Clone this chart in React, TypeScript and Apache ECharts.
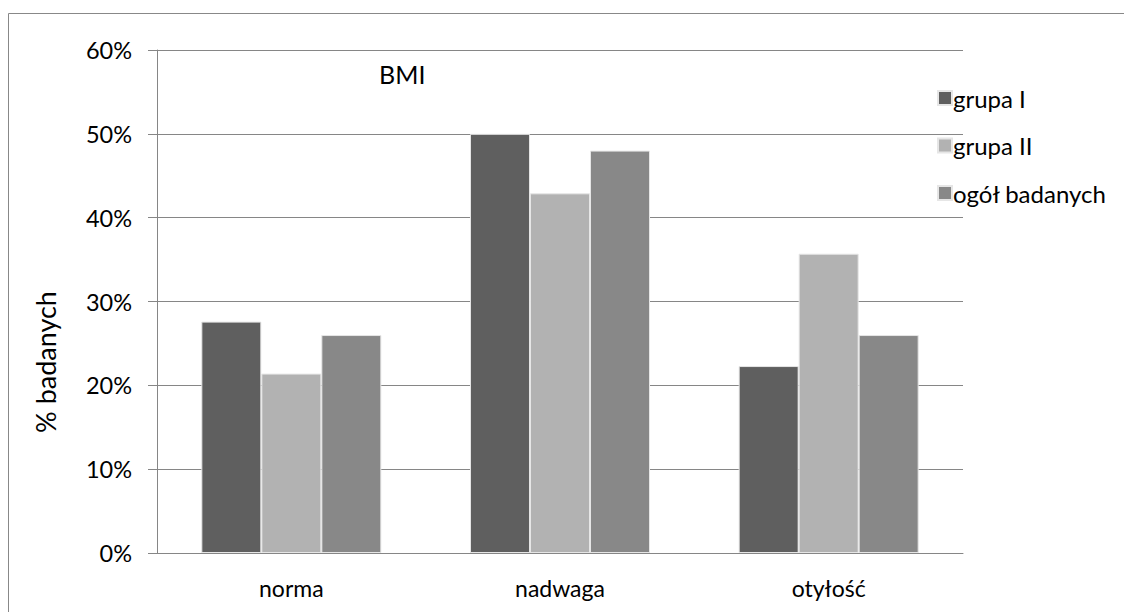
import React, { useEffect, useRef } from "react";
import * as echarts from "echarts";

const categories = ["norma", "nadwaga", "otyłość"];
const grupaI = [27.6, 50.0, 22.3];
const grupaII = [21.4, 42.9, 35.7];
const ogol = [26.0, 48.0, 26.0];
const seriesNames = ["grupa I", "grupa II", "ogół badanych"];
const colors = ["#5f5f5f", "#b2b2b2", "#888888"];

const FONT = "Lato";

export default function App() {
  const ref = useRef<HTMLDivElement>(null);
  useEffect(() => {
    const chart = echarts.init(ref.current!, null, { renderer: "svg" });
    const mk = (name: string, data: number[], color: string) => ({
      name,
      type: "bar",
      data,
      barGap: "0%",
      barCategoryGap: "33%",
      itemStyle: { color, borderColor: "#e6e6e6", borderWidth: 1 },
    });
    chart.setOption({
      animation: false,
      textStyle: { fontFamily: FONT },
      grid: { left: 149, top: 42, right: 169, bottom: 59, containLabel: false },
      legend: {
        orient: "vertical",
        left: 924,
        top: 73,
        itemWidth: 14,
        itemHeight: 14,
        itemGap: 23.5,
        icon: "rect",
        textStyle: { fontFamily: FONT, fontSize: 24, lineHeight: 24, color: "#000", padding: [0, 0, 0, -4] },
        data: seriesNames,
      },
      xAxis: {
        type: "category",
        data: categories,
        axisLine: { lineStyle: { color: "#868686", width: 1 } },
        axisTick: { length: 8, lineStyle: { color: "#868686" } },
        axisLabel: { fontFamily: FONT, fontSize: 23, color: "#000", margin: 23 },
      },
      yAxis: {
        type: "value",
        min: 0,
        max: 60,
        interval: 10,
        axisLine: { show: true, lineStyle: { color: "#868686", width: 1 } },
        axisTick: { show: true, length: 9, lineStyle: { color: "#868686" } },
        splitLine: { lineStyle: { color: "#868686", width: 1 } },
        axisLabel: { fontFamily: FONT, fontSize: 23.5, color: "#000", margin: 25, formatter: "{value}%" },
      },
      graphic: [
        {
          type: "rect",
          shape: { x: 0.5, y: 5.5, width: 1300, height: 800 },
          style: { fill: "none", stroke: "#888888", lineWidth: 1 },
          silent: true,
        },
        {
          type: "text",
          x: 371,
          y: 66,
          style: { text: "BMI", font: `25px ${FONT}`, fill: "#000", textVerticalAlign: "middle" },
        },
        {
          type: "text",
          x: 37,
          y: 354,
          rotation: Math.PI / 2,
          style: {
            text: "% badanych",
            font: `27px ${FONT}`,
            fill: "#000",
            textAlign: "center",
            textVerticalAlign: "middle",
          },
        },
      ],
      series: [
        mk(seriesNames[0], grupaI, colors[0]),
        mk(seriesNames[1], grupaII, colors[1]),
        mk(seriesNames[2], ogol, colors[2]),
      ],
    });
    return () => chart.dispose();
  }, []);
  return <div ref={ref} style={{ width: 1124, height: 604 }} />;
}
